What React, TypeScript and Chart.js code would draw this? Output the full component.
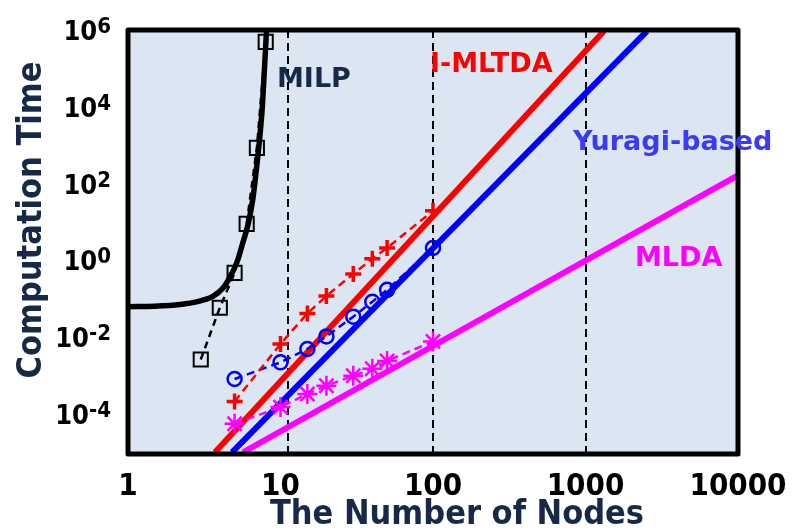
import { useEffect, useRef } from "react";
import { Chart, registerables } from "chart.js";

Chart.register(...registerables);

// ---- axis ticks ----
const X_TICKS = [1, 10, 100, 1000, 10000];
const X_TICK_LABELS = ["1", "10", "100", "1000", "10000"];
const Y_TICK_EXPONENTS = [-4, -2, 0, 2, 4, 6];
const GUIDE_X = [11.2, 100, 1000];

// ---- measured data ----
const NODES = [5, 10, 15, 20, 30, 40, 50, 100];
const IMLTDA_TIME = [2.1e-4, 6.6e-3, 0.041, 0.118, 0.44, 1.1, 2.1, 19.5];
const YURAGI_TIME = [8.1e-4, 2.2e-3, 4.9e-3, 0.0104, 0.034, 0.083, 0.17, 2.1];
const MLDA_TIME = [5.5e-5, 1.5e-4, 3.3e-4, 5.4e-4, 9.8e-4, 1.5e-3, 2.4e-3, 7.7e-3];

const MILP_NODES = [3, 4, 5, 6, 7, 8];
const MILP_TIME = [2.6e-3, 0.058, 0.47, 8.9, 850, 4.9e5];

// ---- fitted curves ----
const MILP_FIT_NODES = [1, 1.5, 2.2, 2.85, 3.6, 4.2, 4.67, 5.19, 5.68, 6.12, 6.6, 7.01, 7.3, 7.6, 7.85, 8.1];
const MILP_FIT_TIME = [0.062, 0.064, 0.071, 0.084, 0.115, 0.19, 0.37, 0.91, 3.0, 8.4, 42, 320, 1500, 1.0e4, 1.0e5, 1.0e6];
const IMLTDA_FIT_NODES = [3.72, 1322];
const IMLTDA_FIT_TIME = [1.0e-5, 9.4e5];
const YURAGI_FIT_NODES = [4.81, 2530];
const YURAGI_FIT_TIME = [1.0e-5, 9.4e5];
const MLDA_FIT_NODES = [5.68, 9850];
const MLDA_FIT_TIME = [1.0e-5, 158];

const SERIES_LABELS = ["MILP", "I-MLTDA", "Yuragi-based", "MLDA"];

const pts = (xs: number[], ys: number[]) => xs.map((x, i) => ({ x, y: ys[i] }));

const NAVY = "#162a48";
const RED = "#ff0000";
const BLUE = "#0000ff";
const MAGENTA = "#ff00ff";
const COND = "'DejaVu Sans Condensed', 'DejaVu Sans', sans-serif";
const SANS = "'DejaVu Sans', sans-serif";

const labelSpots = [
  { text: SERIES_LABELS[0], x: 277, y: 87, color: NAVY },
  { text: SERIES_LABELS[1], x: 430, y: 72, color: RED },
  { text: SERIES_LABELS[2], x: 573, y: 150, color: "#3b3bf6" },
  { text: SERIES_LABELS[3], x: 635, y: 266, color: MAGENTA },
];

const decorPlugin = {
  id: "decor",
  beforeDraw(chart: any) {
    const { ctx, chartArea: a } = chart;
    ctx.save();
    ctx.fillStyle = "#ffffff";
    ctx.fillRect(0, 0, chart.width, chart.height);
    ctx.fillStyle = "#dce6f2";
    ctx.fillRect(a.left, a.top, a.right - a.left, a.bottom - a.top);
    ctx.restore();
  },
  beforeDatasetsDraw(chart: any) {
    const { ctx, chartArea: a } = chart;
    const xs = chart.scales.x;
    ctx.save();
    ctx.strokeStyle = "#000";
    ctx.lineWidth = 2;
    ctx.setLineDash([8, 5]);
    GUIDE_X.forEach((v) => {
      const px = Math.round(xs.getPixelForValue(v));
      ctx.beginPath();
      ctx.moveTo(px, a.top);
      ctx.lineTo(px, a.bottom + 4);
      ctx.stroke();
    });
    ctx.restore();
  },
  afterDatasetsDraw(chart: any) {
    const { ctx, chartArea: a } = chart;
    const xs = chart.scales.x;
    const ys = chart.scales.y;
    ctx.save();
    // frame
    ctx.strokeStyle = "#000";
    ctx.lineWidth = 5;
    ctx.lineJoin = "round";
    ctx.strokeRect(a.left, a.top, a.right - a.left, a.bottom - a.top);

    // x tick labels
    ctx.fillStyle = "#000";
    ctx.font = `bold 31px ${COND}`;
    ctx.textAlign = "center";
    ctx.textBaseline = "alphabetic";
    X_TICKS.forEach((v, i) => {
      ctx.fillText(X_TICK_LABELS[i], xs.getPixelForValue(v), 495);
    });

    // y tick labels 10^e
    const right = 111;
    Y_TICK_EXPONENTS.forEach((e) => {
      const py = ys.getPixelForValue(Math.pow(10, e));
      const expText = String(e);
      ctx.textAlign = "right";
      ctx.font = `bold 22px ${COND}`;
      const ew = ctx.measureText(expText).width;
      ctx.fillText(expText, right, py + 3);
      ctx.font = `bold 27px ${COND}`;
      ctx.fillText("10", right - ew, py + 10);
    });

    // axis titles
    ctx.fillStyle = NAVY;
    ctx.font = `bold 34px ${COND}`;
    ctx.textAlign = "center";
    ctx.fillText("The Number of Nodes", 457, 524);
    ctx.save();
    ctx.translate(41, 220);
    ctx.rotate(-Math.PI / 2);
    ctx.fillText("Computation Time", 0, 0);
    ctx.restore();

    // series labels
    ctx.font = `bold 27px ${SANS}`;
    ctx.textAlign = "left";
    labelSpots.forEach((l) => {
      ctx.fillStyle = l.color;
      ctx.fillText(l.text, l.x, l.y);
    });
    ctx.restore();
  },
};

export default function App() {
  const ref = useRef<HTMLCanvasElement>(null);
  useEffect(() => {
    const fit = (data: any, color: string, width: number) => ({
      data,
      borderColor: color,
      backgroundColor: color,
      borderWidth: width,
      pointRadius: 0,
      showLine: true,
      order: 3,
    });
    const chart = new Chart(ref.current as HTMLCanvasElement, {
      type: "scatter",
      data: {
        datasets: [
          { ...fit(pts(IMLTDA_FIT_NODES, IMLTDA_FIT_TIME), RED, 6), label: "I-MLTDA fit" },
          { ...fit(pts(YURAGI_FIT_NODES, YURAGI_FIT_TIME), BLUE, 6), label: "Yuragi fit" },
          { ...fit(pts(MLDA_FIT_NODES, MLDA_FIT_TIME), MAGENTA, 6), label: "MLDA fit" },
          {
            ...fit(pts(MILP_FIT_NODES, MILP_FIT_TIME), "#000", 5.5),
            label: "MILP fit",
            cubicInterpolationMode: "monotone",
          },
          {
            label: "MILP",
            data: pts(MILP_NODES, MILP_TIME),
            showLine: true,
            borderColor: "#000",
            borderWidth: 2.5,
            borderDash: [7, 5],
            pointStyle: "rect",
            pointRadius: 10,
            pointBorderWidth: 2,
            pointBorderColor: "#000",
            pointBackgroundColor: "rgba(0,0,0,0)",
            order: 1,
          },
          {
            label: "I-MLTDA",
            data: pts(NODES, IMLTDA_TIME),
            showLine: true,
            borderColor: RED,
            borderWidth: 2.5,
            borderDash: [8, 5],
            pointStyle: "cross",
            pointRadius: 8,
            pointBorderWidth: 3.5,
            pointBorderColor: RED,
            order: 1,
          },
          {
            label: "Yuragi-based",
            data: pts(NODES, YURAGI_TIME),
            showLine: true,
            borderColor: BLUE,
            borderWidth: 2.5,
            borderDash: [8, 5],
            pointStyle: "circle",
            pointRadius: 7,
            pointBorderWidth: 2.5,
            pointBorderColor: BLUE,
            pointBackgroundColor: "rgba(0,0,0,0)",
            order: 1,
          },
          {
            label: "MLDA",
            data: pts(NODES, MLDA_TIME),
            showLine: true,
            borderColor: MAGENTA,
            borderWidth: 2.5,
            borderDash: [8, 5],
            pointStyle: "star",
            pointRadius: 10,
            pointBorderWidth: 2.5,
            pointBorderColor: MAGENTA,
            order: 1,
          },
        ],
      },
      options: {
        responsive: false,
        animation: false,
        events: [],
        layout: { padding: { left: 128, top: 30, right: 63, bottom: 74 } },
        plugins: { legend: { display: false }, tooltip: { enabled: false } },
        scales: {
          x: { type: "logarithmic", min: 1, max: 10000, display: false },
          y: { type: "logarithmic", min: 9e-6, max: 1e6, display: false },
        },
      },
      plugins: [decorPlugin],
    } as any);
    return () => chart.destroy();
  }, []);
  return (
    <div style={{ position: "absolute", left: 0, top: 0, width: 801, height: 528, background: "#fff" }}>
      <canvas ref={ref} width={801} height={528} style={{ display: "block", width: 801, height: 528 }} />
    </div>
  );
}
